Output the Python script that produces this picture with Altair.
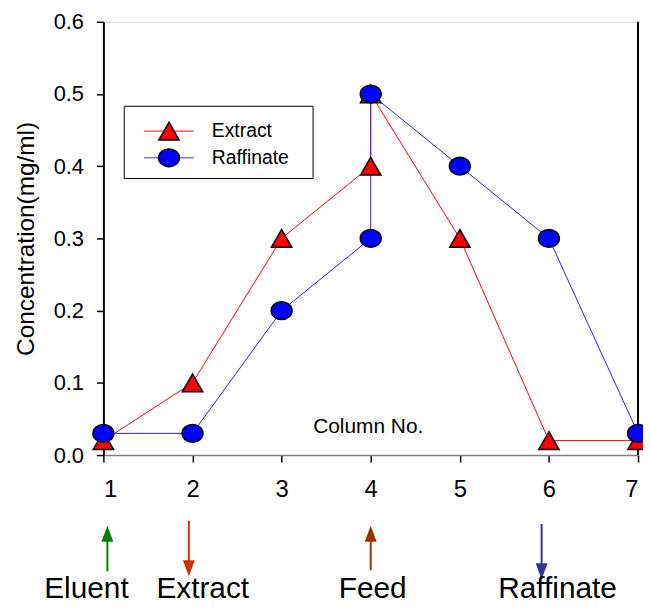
import altair as alt
import pandas as pd

# ---------------- data ----------------
columns = [1, 2, 3, 4, 4, 5, 6, 7]
extract = [0.02, 0.10, 0.30, 0.40, 0.50, 0.30, 0.02, 0.02]
raffinate = [0.03, 0.03, 0.20, 0.30, 0.50, 0.40, 0.30, 0.03]

x_ticks = [1, 2, 3, 4, 5, 6, 7]
y_ticks = [0.0, 0.1, 0.2, 0.3, 0.4, 0.5, 0.6]

series_names = ["Extract", "Raffinate"]
x_title = "Column No."
y_title = "Concentration(mg/ml)"

stream_labels = ["Eluent", "Extract", "Feed", "Raffinate"]
stream_dirs = ["up", "down", "up", "down"]
stream_colors = ["#008000", "#cc3300", "#993300", "#333399"]

# ---------------- layout (annotation placement in data units) ----------------
arrow_x = [1.045, 1.959, 4.0, 5.918]
arrow_tail = [-0.161, -0.091, -0.1595, -0.0953]
arrow_head = [-0.109, -0.1568, -0.109, -0.161]
label_x = [0.81, 2.115, 4.022, 6.097]
label_y = -0.185

legend_box = dict(x=1.234, x2=3.353, y=0.483, y2=0.383)
legend_rows_y = [0.4486, 0.4117]
legend_line_x = (1.457, 2.015)
legend_sym_x = 1.736
legend_text_x = 2.216

FONT = "Liberation Sans"
ELLIPSE = "M-1,0A1,0.85,0,1,0,1,0A1,0.85,0,1,0,-1,0Z"
UP_HEAD = "M0,-1L0.75,1L-0.75,1Z"
DOWN_HEAD = "M0,1L0.75,-1L-0.75,-1Z"

xs = alt.Scale(domain=[1, 7], nice=False, zero=False)
ys = alt.Scale(domain=[0, 0.6], nice=False, zero=False)

df_ext = pd.DataFrame({"col": columns, "val": extract, "idx": range(len(columns))})
df_raf = pd.DataFrame({"col": columns, "val": raffinate, "idx": range(len(columns))})

x_axis = alt.Axis(values=x_ticks, format="d", grid=False, labelFontSize=24,
                  labelFont=FONT, labelColor="black", tickColor="black",
                  tickSize=7, tickWidth=1.5, domainColor="#808080", domainWidth=1.5,
                  labelPadding=16, title=x_title, titleFont=FONT, titleFontSize=21,
                  titleFontWeight="normal", titleColor="black", titleY=-29,
                  titleX=266, titleBaseline="middle", titleAlign="center")
y_axis = alt.Axis(values=y_ticks, format=".1f", grid=False, labelFontSize=22,
                  labelFont=FONT, labelColor="black", tickColor="black",
                  tickSize=7, tickWidth=1.5, domainColor="black", domainWidth=2,
                  labelPadding=13, title=y_title, titleFont=FONT, titleFontSize=24.5,
                  titleFontWeight="normal", titleColor="black", titlePadding=15)


def X(field):
    return alt.X(field, scale=xs, axis=x_axis)


def Y(field):
    return alt.Y(field, scale=ys, axis=y_axis)


# right frame line
frame_df = pd.DataFrame({"x": [7], "y": [0.0], "y2": [0.6]})
frame = alt.Chart(frame_df).mark_rule(color="black", strokeWidth=2).encode(
    x=X("x:Q"), y=Y("y:Q"), y2="y2:Q")

line_ext = alt.Chart(df_ext).mark_line(color="#ff0000", strokeWidth=1).encode(
    x=X("col:Q"), y=Y("val:Q"), order="idx:Q")
line_raf = alt.Chart(df_raf).mark_line(color="#2222ff", strokeWidth=1).encode(
    x=X("col:Q"), y=Y("val:Q"), order="idx:Q")

pts_ext = alt.Chart(df_ext).mark_point(shape="triangle-up", size=420, filled=True,
                                       fill="#ff0000", stroke="black", strokeWidth=1.5,
                                       opacity=1).encode(x=X("col:Q"), y=Y("val:Q"))
pts_raf = alt.Chart(df_raf).mark_point(shape=ELLIPSE, size=441, filled=True,
                                       fill="#0000ff", stroke="black", strokeWidth=1.5,
                                       opacity=1).encode(x=X("col:Q"), y=Y("val:Q"))

# legend
box_df = pd.DataFrame([legend_box])
leg_box = alt.Chart(box_df).mark_rect(fill="white", stroke="black", strokeWidth=1).encode(
    x=X("x:Q"), x2="x2:Q", y=Y("y:Q"), y2="y2:Q")
leg_df = pd.DataFrame({"name": series_names, "y": legend_rows_y,
                       "x1": [legend_line_x[0]] * 2, "x2": [legend_line_x[1]] * 2,
                       "xs": [legend_sym_x] * 2, "xt": [legend_text_x] * 2})
leg_line_e = alt.Chart(leg_df.iloc[[0]]).mark_rule(color="#ff0000", strokeWidth=1).encode(
    x=X("x1:Q"), x2="x2:Q", y=Y("y:Q"))
leg_line_r = alt.Chart(leg_df.iloc[[1]]).mark_rule(color="#7777ff", strokeWidth=1.5).encode(
    x=X("x1:Q"), x2="x2:Q", y=Y("y:Q"))
leg_sym_e = alt.Chart(leg_df.iloc[[0]]).mark_point(shape="triangle-up", size=420, filled=True,
                                                   fill="#ff0000", stroke="black", strokeWidth=1.5,
                                                   opacity=1).encode(x=X("xs:Q"), y=Y("y:Q"))
leg_sym_r = alt.Chart(leg_df.iloc[[1]]).mark_point(shape=ELLIPSE, size=441, filled=True,
                                                   fill="#0000ff", stroke="black", strokeWidth=1.5,
                                                   opacity=1).encode(x=X("xs:Q"), y=Y("y:Q"))
leg_text = alt.Chart(leg_df).mark_text(align="left", baseline="middle", font=FONT,
                                       fontSize=19.5, color="black").encode(
    x=X("xt:Q"), y=Y("y:Q"), text="name:N")

# stream annotations below the axis
arr_df = pd.DataFrame({"label": stream_labels, "dir": stream_dirs, "color": stream_colors,
                       "x": arrow_x, "tail": arrow_tail, "head": arrow_head,
                       "lx": label_x, "ly": [label_y] * 4})
color_scale = alt.Scale(domain=stream_labels, range=stream_colors)
arr_rule = alt.Chart(arr_df).mark_rule(strokeWidth=2).encode(
    x=X("x:Q"), y=Y("tail:Q"), y2="head:Q",
    color=alt.Color("label:N", scale=color_scale, legend=None))
arr_up = alt.Chart(arr_df[arr_df["dir"] == "up"]).mark_point(
    shape=UP_HEAD, size=256, filled=True, opacity=1, strokeWidth=0).encode(
    x=X("x:Q"), y=Y("head:Q"), color=alt.Color("label:N", scale=color_scale, legend=None))
arr_down = alt.Chart(arr_df[arr_df["dir"] == "down"]).mark_point(
    shape=DOWN_HEAD, size=256, filled=True, opacity=1, strokeWidth=0).encode(
    x=X("x:Q"), y=Y("head:Q"), color=alt.Color("label:N", scale=color_scale, legend=None))
arr_text = alt.Chart(arr_df).mark_text(align="center", baseline="middle", font=FONT,
                                       fontSize=30, color="black").encode(
    x=X("lx:Q"), y=Y("ly:Q"), text="label:N")

chart = alt.layer(
    frame, line_ext, line_raf, pts_ext, pts_raf,
    leg_box, leg_line_e, leg_line_r, leg_sym_e, leg_sym_r, leg_text,
    arr_rule, arr_up, arr_down, arr_text,
).properties(
    width=538, height=436,
    autosize=alt.AutoSizeParams(type="none"),
    padding={"left": 96, "top": 12, "right": 5, "bottom": 148},
).configure_view(stroke="#808080", strokeWidth=1).configure(font=FONT)

chart.save("out.html", embed_options={"renderer": "svg", "actions": False})
